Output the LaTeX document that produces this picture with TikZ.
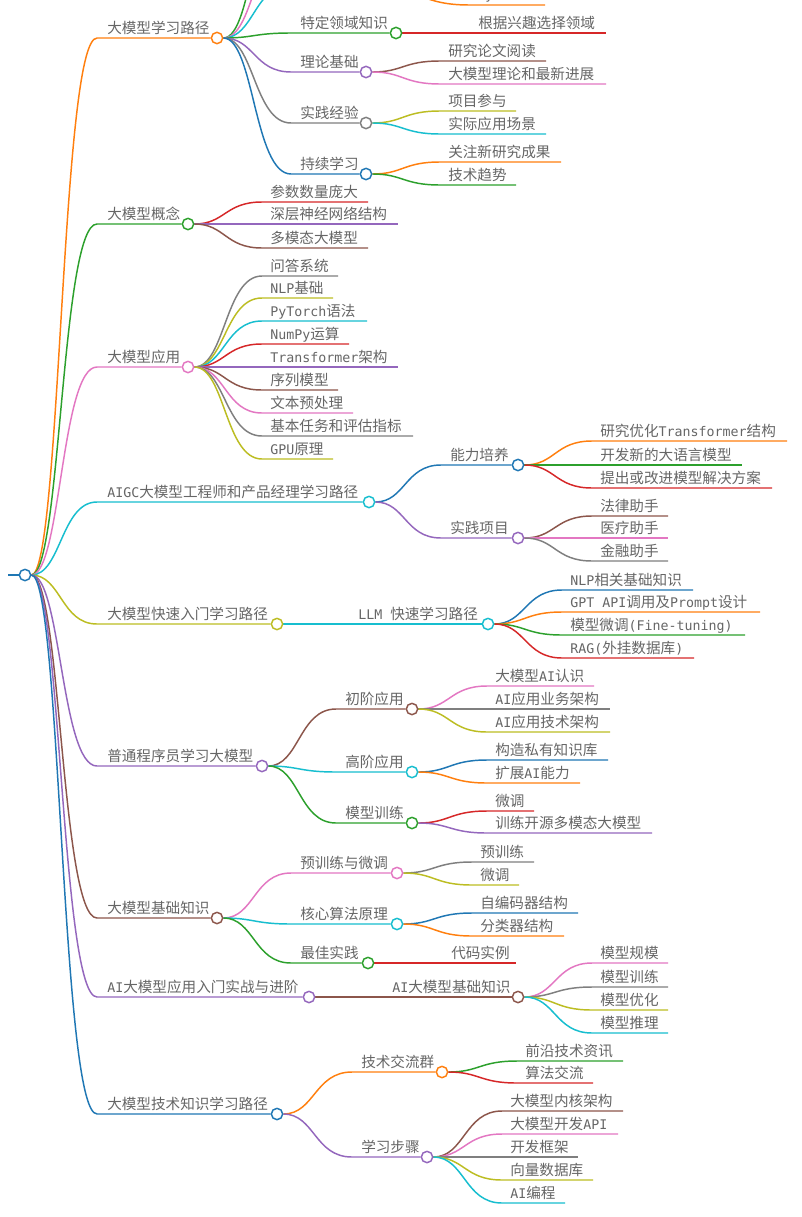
\documentclass[tikz,border=0pt]{standalone}
\usepackage{fontspec}
\setmainfont{Noto Sans CJK SC}
\newfontfamily\lat[Scale=0.91]{DejaVu Sans Mono}
\definecolor{mmBlue}{RGB}{31, 119, 180}
\definecolor{mmOrange}{RGB}{255, 127, 14}
\definecolor{mmGreen}{RGB}{44, 160, 44}
\definecolor{mmRed}{RGB}{214, 39, 40}
\definecolor{mmPurple}{RGB}{148, 103, 189}
\definecolor{mmBrown}{RGB}{140, 86, 75}
\definecolor{mmPink}{RGB}{227, 119, 194}
\definecolor{mmGray}{RGB}{127, 127, 127}
\definecolor{mmOlive}{RGB}{188, 189, 34}
\definecolor{mmCyan}{RGB}{23, 190, 207}
\definecolor{mmText}{RGB}{102, 102, 102}
\usetikzlibrary{calc, backgrounds}

\tikzset{
  hub/.style={circle, draw=#1, line width=1.1pt, fill=white, minimum size=8.5pt, inner sep=0pt},
  link/.style={draw=#1, line width=1.1pt},
  lbl/.style={anchor=base west, inner sep=0pt, text=mmText},
  bend curve/.style={to path={let \p1=(\tikztostart), \p2=(\tikztotarget) in
    .. controls ({(\x1+\x2)/2},\y1) and ({(\x1+\x2)/2},\y2) .. (\tikztotarget) \tikztonodes}}
}

\begin{document}
\begin{tikzpicture}[x=0.75pt, y=-0.75pt, font=\fontsize{10.95pt}{13pt}\selectfont]
  \useasboundingbox (0,0) rectangle (802,1217);
  \begin{scope}[on background layer]
    \fill[white] (0,0) rectangle (802,1217);
  \end{scope}

  % root
  \node[hub=mmBlue] (root) at (25,575) {};
  \coordinate (stub) at (8,575);
  \begin{scope}[on background layer]
    \draw[link=mmBlue] (stub) -- (root);
  \end{scope}

  % first level
  \foreach \nm/\yy/\hx/\col/\txt in {
    road/38/217/mmOrange/大模型学习路径,
    idea/224/188/mmGreen/大模型概念,
    app/367/188/mmPink/大模型应用,
    aigc/502/369/mmCyan/{\lat AIGC}大模型工程师和产品经理学习路径,
    fast/624/277/mmOlive/大模型快速入门学习路径,
    coder/766/262/mmPurple/普通程序员学习大模型,
    base/918/217/mmBrown/大模型基础知识,
    prac/997/309/mmPurple/{\lat AI}大模型应用入门实战与进阶,
    tech/1114/277/mmBlue/大模型技术知识学习路径%
  } {
    \node[hub=\col] (\nm) at (\hx,\yy) {};
    \node[lbl] (\nm-t) at (107,\yy-5) {\txt};
    \begin{scope}[on background layer]
      \coordinate (\nm-k) at (97,\yy);
      \draw[link=\col] (root) to[bend curve] (\nm-k) -- (\nm);
    \end{scope}
  }

  % branches cut off by the top edge
  \coordinate (hidG) at (291,-119);
  \coordinate (hidP) at (291,-58);
  \coordinate (hidC-k) at (291,-15);
  \coordinate (hidC) at (366,-15);
  \coordinate (hidL-k) at (469,5);
  \coordinate (hidL-e) at (545,5);
  \node[lbl] (hidL-t) at (477,0) {\lat PyTorch};
  \begin{scope}[on background layer]
    \draw[link=mmGreen] (road) to[bend curve] (hidG);
    \draw[link=mmPink] (road) to[bend curve] (hidP);
    \draw[link=mmCyan] (road) to[bend curve] (hidC-k) -- (hidC);
    \draw[link=mmOrange] (hidC) to[bend curve] (hidL-k) -- (hidL-e);
  \end{scope}

  % second level
  \foreach \up/\nm/\tx/\yy/\hx/\col/\txt in {
    road/field/300/33/396/mmGreen/特定领域知识,
    road/theory/300/72/366/mmPurple/理论基础,
    road/exp/300/123/366/mmGray/实践经验,
    road/learn/300/174/366/mmBlue/持续学习,
    aigc/skill/450/465/518/mmBlue/能力培养,
    aigc/proj/450/538/518/mmPurple/实践项目,
    fast/llm/358/624/488/mmCyan/{\lat LLM }快速学习路径,
    coder/basic/345/709/412/mmBrown/初阶应用,
    coder/adv/345/772/412/mmCyan/高阶应用,
    coder/train/345/823/412/mmGreen/模型训练,
    base/pre/300/873/397/mmPink/预训练与微调,
    base/core/300/924/397/mmCyan/核心算法原理,
    base/best/300/963/368/mmGreen/最佳实践,
    prac/aibase/392/997/518/mmBrown/{\lat AI}大模型基础知识,
    tech/group/361/1072/442/mmOrange/技术交流群,
    tech/steps/361/1157/427/mmPurple/学习步骤%
  } {
    \node[hub=\col] (\nm) at (\hx,\yy) {};
    \node[lbl] (\nm-t) at (\tx,\yy-5) {\txt};
    \begin{scope}[on background layer]
      \coordinate (\nm-k) at (\tx-9,\yy);
      \draw[link=\col] (\up) to[bend curve] (\nm-k) -- (\nm);
    \end{scope}
  }

  % leaves
  \foreach \up/\tx/\yy/\ex/\col/\txt [count=\i] in {
    field/478/33/606/mmRed/根据兴趣选择领域,
    theory/448/61/546/mmBrown/研究论文阅读,
    theory/448/84/606/mmPink/大模型理论和最新进展,
    exp/448/111/516/mmOlive/项目参与,
    exp/448/134/546/mmCyan/实际应用场景,
    learn/448/162/561/mmOrange/关注新研究成果,
    learn/448/185/516/mmGreen/技术趋势,
    idea/270/202/368/mmRed/参数数量庞大,
    idea/270/224/398/mmPurple/深层神经网络结构,
    idea/270/248/368/mmBrown/多模态大模型,
    app/270/276/338/mmGray/问答系统,
    app/270/298/333/mmOlive/{\lat NLP}基础,
    app/270/321/367/mmCyan/{\lat PyTorch}语法,
    app/270/344/349/mmRed/{\lat NumPy}运算,
    app/270/367/398/mmPurple/{\lat Transformer}架构,
    app/270/390/338/mmBrown/序列模型,
    app/270/413/353/mmPink/文本预处理,
    app/270/436/413/mmGray/基本任务和评估指标,
    app/270/459/333/mmOlive/{\lat GPU}原理,
    skill/600/441/787/mmOrange/研究优化{\lat Transformer}结构,
    skill/600/465/742/mmGreen/开发新的大语言模型,
    skill/600/488/772/mmRed/提出或改进模型解决方案,
    proj/600/516/668/mmBrown/法律助手,
    proj/600/538/668/mmPink/医疗助手,
    proj/600/561/668/mmGray/金融助手,
    llm/570/590/693/mmBlue/{\lat NLP}相关基础知识,
    llm/570/612/760/mmOrange/{\lat GPT API}调用及{\lat Prompt}设计,
    llm/570/635/745/mmGreen/模型微调{\lat (Fine-tuning)},
    llm/570/658/694/mmRed/{\lat RAG(}外挂数据库{\lat )},
    basic/495/686/594/mmPink/大模型{\lat AI}认识,
    basic/495/709/610/mmGray/{\lat AI}应用业务架构,
    basic/495/732/610/mmOlive/{\lat AI}应用技术架构,
    adv/495/760/608/mmBlue/构造私有知识库,
    adv/495/783/580/mmOrange/扩展{\lat AI}能力,
    train/495/811/534/mmRed/微调,
    train/495/833/652/mmPurple/训练开源多模态大模型,
    pre/480/862/534/mmGray/预训练,
    pre/480/885/519/mmOlive/微调,
    core/480/913/578/mmBlue/自编码器结构,
    core/480/936/564/mmOrange/分类器结构,
    best/451/963/516/mmRed/代码实例,
    aibase/600/963/668/mmPink/模型规模,
    aibase/600/987/668/mmGray/模型训练,
    aibase/600/1010/668/mmOlive/模型优化,
    aibase/600/1033/668/mmCyan/模型推理,
    group/525/1061/623/mmGreen/前沿技术资讯,
    group/525/1083/593/mmRed/算法交流,
    steps/510/1111/623/mmBrown/大模型内核架构,
    steps/510/1134/618/mmPink/大模型开发{\lat API},
    steps/510/1157/578/mmGray/开发框架,
    steps/510/1180/593/mmOlive/向量数据库,
    steps/510/1203/565/mmCyan/{\lat AI}编程%
  } {
    \node[lbl] (leaf\i) at (\tx,\yy-5) {\txt};
    \begin{scope}[on background layer]
      \coordinate (k\i) at (\tx-8,\yy);
      \coordinate (e\i) at (\ex,\yy);
      \draw[link=\col] (\up) to[bend curve] (k\i) -- (e\i);
    \end{scope}
  }
\end{tikzpicture}
\end{document}
